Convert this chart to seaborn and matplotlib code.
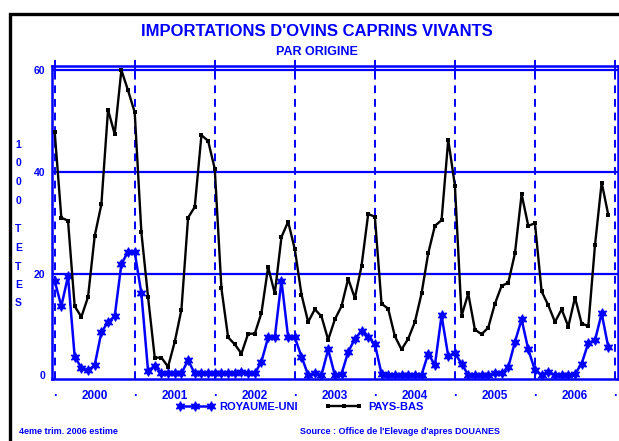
import numpy as np
import pandas as pd
import matplotlib
matplotlib.use("Agg")
import matplotlib.pyplot as plt
import matplotlib.patches as mpatches
import seaborn as sns

# monthly imports, thousand head, Jan 2000 - Dec 2006
royaume_uni = [18.6, 13.6, 19.5, 3.7, 1.5, 1.0, 2.0, 8.5, 10.5, 11.6, 21.9, 24.3,
               24.2, 16.1, 0.9, 1.9, 0.4, 0.4, 0.4, 0.4, 3.0, 0.4, 0.4, 0.4,
               0.4, 0.4, 0.5, 0.4, 0.6, 0.5, 0.4, 2.7, 7.5, 7.5, 18.6, 7.5,
               7.5, 3.7, 0.1, 0.4, 0.1, 5.1, 0.1, 0.3, 4.6, 7.2, 8.7, 7.5,
               6.2, 0.3, 0.1, 0.1, 0.1, 0.1, 0.1, 0.1, 4.3, 2.0, 11.8, 3.8,
               4.4, 2.3, 0.1, 0.1, 0.1, 0.1, 0.4, 0.4, 1.6, 6.6, 11.0, 5.1,
               1.0, 0.1, 0.7, 0.1, 0.1, 0.1, 0.3, 2.3, 6.4, 6.9, 12.2, 5.5]
pays_bas = [47.9, 31.0, 30.4, 13.6, 11.5, 15.4, 27.4, 33.6, 52.2, 47.4, 60.0, 56.0,
            51.7, 28.1, 15.4, 3.5, 3.5, 1.7, 6.6, 12.9, 31.0, 33.1, 47.2, 46.1,
            40.6, 17.1, 7.5, 6.1, 4.3, 8.2, 8.2, 12.3, 21.3, 16.1, 27.2, 30.2,
            24.8, 15.9, 10.5, 13.0, 11.6, 7.0, 11.0, 13.6, 19.0, 15.2, 21.5, 31.7,
            31.2, 14.1, 13.1, 7.7, 5.1, 7.2, 10.5, 16.1, 24.0, 29.4, 30.5, 46.3,
            37.3, 11.7, 16.1, 9.0, 8.1, 9.4, 14.1, 17.6, 18.2, 24.0, 35.6, 29.4,
            29.9, 16.5, 13.8, 10.5, 13.0, 9.6, 15.3, 10.2, 9.7, 25.6, 37.9, 31.5]
years = ["2000", "2001", "2002", "2003", "2004", "2005", "2006"]
yticks = [0, 20, 40, 60]

BLUE = "#0000ff"
W, H = 619, 441

sns.set_style("white")
plt.rcParams["font.family"] = ["Liberation Sans", "DejaVu Sans"]
plt.rcParams["font.weight"] = "bold"

df = pd.DataFrame({"mois": np.arange(len(pays_bas)),
                   "ROYAUME-UNI": royaume_uni, "PAYS-BAS": pays_bas})

fig = plt.figure(figsize=(W / 100, H / 100), dpi=100)
ax = fig.add_axes([52 / W, 1 - 379 / H, (618 - 52) / W, (379 - 66) / H])

# grid first so the lines sit on top
for v in [20, 40, 60]:
    ax.axhline(v, color=BLUE, lw=1.6, zorder=1)
for k in range(len(years) + 1):
    ax.axvline(12 * k, color=BLUE, lw=1.4, ls=(0, (4, 3)), zorder=1)

sns.lineplot(data=df, x="mois", y="ROYAUME-UNI", ax=ax, color=BLUE, lw=1.8,
             marker=(6, 1, 0), markersize=7, markeredgewidth=0.8,
             markeredgecolor=BLUE, label="ROYAUME-UNI", zorder=3)
sns.lineplot(data=df, x="mois", y="PAYS-BAS", ax=ax, color="black", lw=1.7,
             marker="s", markersize=3.3, markeredgewidth=0,
             label="PAYS-BAS", zorder=4)

ax.set_xlim(-0.4, 84.45)
ax.set_ylim(-0.7, 60.8)
ax.set_xlabel("")
ax.set_ylabel("")

ax.set_xticks([12 * k for k in range(len(years) + 1)])
ax.set_xticklabels(["."] * (len(years) + 1))
ax.set_xticks([12 * k + 6 for k in range(len(years))], minor=True)
ax.set_xticklabels(years, minor=True)
ax.set_yticks(yticks)
ax.set_yticklabels([str(v) for v in yticks])
ax.set_yticks([10, 30, 50], minor=True)

ax.tick_params(axis="x", which="major", direction="inout", length=9, width=1.4,
               color=BLUE, labelcolor=BLUE, labelsize=9, pad=1, top=True)
ax.tick_params(axis="x", which="minor", direction="out", length=4, width=1.2,
               color=BLUE, labelcolor=BLUE, labelsize=8.5, pad=4)
ax.tick_params(axis="y", which="major", direction="inout", length=8, width=1.4,
               color=BLUE, labelcolor=BLUE, labelsize=7.5, pad=1)
ax.tick_params(axis="y", which="minor", direction="out", length=3, width=1.0,
               color=BLUE)
for lab in ax.get_xticklabels(minor=True) + ax.get_xticklabels() + ax.get_yticklabels():
    lab.set_fontweight("bold")

for s in ax.spines.values():
    s.set_color(BLUE)
    s.set_linewidth(1.8)
    s.set_visible(True)

ax.get_legend().remove()
handles, labels = ax.get_legend_handles_labels()
leg = fig.legend(handles, labels, loc="center", bbox_to_anchor=(300 / W, 1 - 407 / H),
                 ncol=2, frameon=False, numpoints=3, handlelength=3.4,
                 columnspacing=2.4, handletextpad=0.5, prop={"size": 8, "weight": "bold"})
for t in leg.get_texts():
    t.set_color(BLUE)

# titles
fig.text(317 / W, 1 - 32 / H, "IMPORTATIONS D'OVINS CAPRINS VIVANTS", ha="center",
         va="center", color=BLUE, fontsize=12, fontweight="bold")
fig.text(317 / W, 1 - 52 / H, "PAR ORIGINE", ha="center", va="center",
         color=BLUE, fontsize=9, fontweight="bold")

# stacked y label
for ch, yp in zip("1000", [145, 163, 182, 201]):
    fig.text(18.5 / W, 1 - yp / H, ch, ha="center", va="center", color=BLUE,
             fontsize=7.5, fontweight="bold")
for ch, yp in zip("TETES", [229, 248, 266.5, 285, 303]):
    fig.text(18.5 / W, 1 - yp / H, ch, ha="center", va="center", color=BLUE,
             fontsize=7.5, fontweight="bold")

# footer
fig.text(19 / W, 1 - 432 / H, "4eme trim. 2006 estime", ha="left", va="center",
         color=BLUE, fontsize=6.5, fontweight="bold")
fig.text(300 / W, 1 - 432 / H, "Source : Office de l'Elevage d'apres DOUANES",
         ha="left", va="center", color=BLUE, fontsize=6.5, fontweight="bold")

# outer frame (right and bottom edges fall outside the picture)
fig.patches.append(mpatches.Rectangle((10 / W, -0.2), 1.2, 1.2 - 14 / H,
                                      transform=fig.transFigure, fill=False,
                                      edgecolor="black", lw=2.4))

fig.savefig("out.png", dpi=100)
plt.close(fig)
